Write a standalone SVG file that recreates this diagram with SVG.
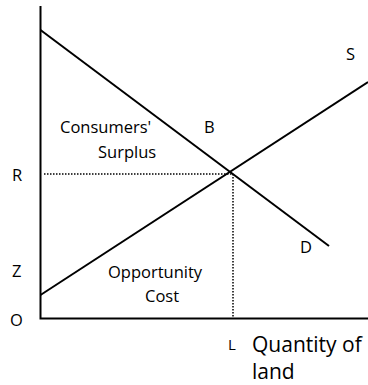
<svg xmlns="http://www.w3.org/2000/svg" width="368" height="385" viewBox="0 0 368 385">
<style>
text{font-family:"Open Sans","Noto Sans",sans-serif;font-size:16.5px;fill:#000}
.big{font-size:21px}
.sm{font-size:15px}
.ln{stroke:#000;stroke-width:2;fill:none}
.dot{stroke:#000;stroke-width:1.5;stroke-dasharray:1.5 1.5;fill:none}
</style>
<rect width="368" height="385" fill="#fff"/>
<g id="connectors">
<path class="ln" d="M40.5 6 V318.5 H368"/>
<path class="ln" d="M40.5 30 L329 246"/>
<path class="ln" d="M40.5 295 L368 82"/>
<path class="dot" d="M44 174 H232"/>
<path class="dot" d="M233 174 V318"/>
</g>
<g id="labels">
<text x="60" y="133">Consumers'</text>
<text x="98" y="158">Surplus</text>
<text x="204" y="133">B</text>
<text x="346" y="60">S</text>
<text x="12" y="181">R</text>
<text x="12" y="277">Z</text>
<text x="10" y="326">O</text>
<text x="300" y="253">D</text>
<text x="108" y="278">Opportunity</text>
<text x="145" y="302">Cost</text>
<text class="sm" x="228" y="350">L</text>
<text class="big" x="252" y="352">Quantity of</text>
<text class="big" x="252" y="379">land</text>
</g>
</svg>
